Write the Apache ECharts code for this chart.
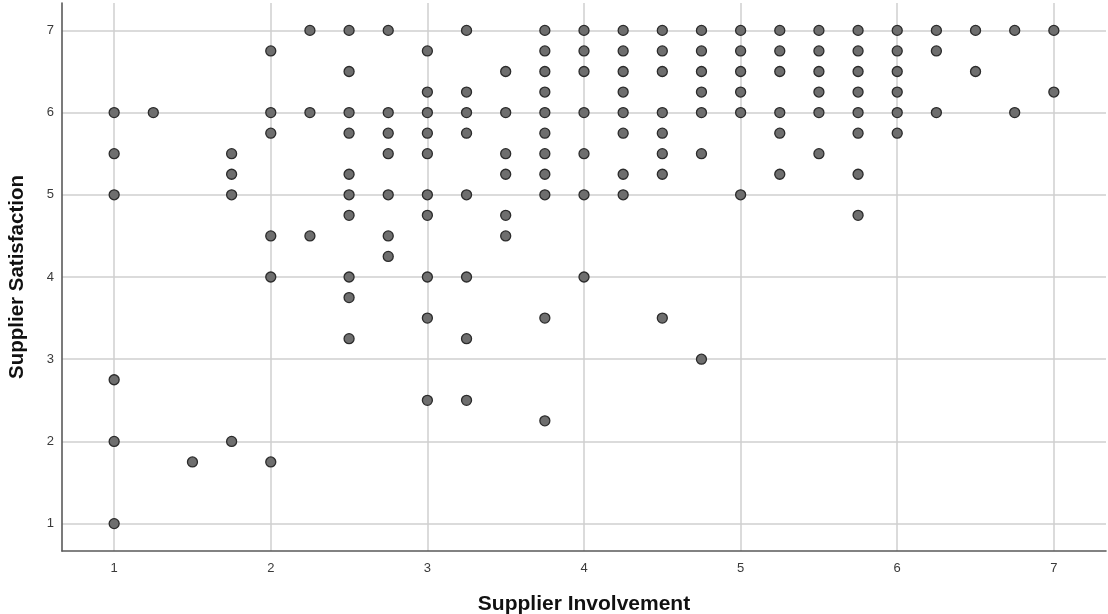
<!DOCTYPE html>
<html>
<head>
<meta charset="utf-8">
<title>Supplier Involvement vs Supplier Satisfaction</title>
<script src="https://cdn.jsdelivr.net/npm/echarts@6/dist/echarts.min.js"></script>
<style>
  html, body { margin: 0; padding: 0; background: #fff; }
  #chart { width: 1108px; height: 614px; }
</style>
</head>
<body>
<div id="chart"></div>
<script>
// Supplier Involvement levels (x) - one entry per column of dots
const involvementLevels = [1, 1.25, 1.5, 1.75, 2, 2.25, 2.5, 2.75, 3, 3.25, 3.5, 3.75,
  4, 4.25, 4.5, 4.75, 5, 5.25, 5.5, 5.75, 6, 6.25, 6.5, 6.75, 7]

// Supplier Satisfaction values observed at each involvement level
const satisfactionByLevel = [
  [6, 5.5, 5, 2.75, 2, 1],
  [6],
  [1.75],
  [5.5, 5.25, 5, 2],
  [6.75, 6, 5.75, 4.5, 4, 1.75],
  [7, 6, 4.5],
  [7, 6.5, 6, 5.75, 5.25, 5, 4.75, 4, 3.75, 3.25],
  [7, 6, 5.75, 5.5, 5, 4.5, 4.25],
  [6.75, 6.25, 6, 5.75, 5.5, 5, 4.75, 4, 3.5, 2.5],
  [7, 6.25, 6, 5.75, 5, 4, 3.25, 2.5],
  [6.5, 6, 5.5, 5.25, 4.75, 4.5],
  [7, 6.75, 6.5, 6.25, 6, 5.75, 5.5, 5.25, 5, 3.5, 2.25],
  [7, 6.75, 6.5, 6, 5.5, 5, 4],
  [7, 6.75, 6.5, 6.25, 6, 5.75, 5.25, 5],
  [7, 6.75, 6.5, 6, 5.75, 5.5, 5.25, 3.5],
  [7, 6.75, 6.5, 6.25, 6, 5.5, 3],
  [7, 6.75, 6.5, 6.25, 6, 5],
  [7, 6.75, 6.5, 6, 5.75, 5.25],
  [7, 6.75, 6.5, 6.25, 6, 5.5],
  [7, 6.75, 6.5, 6.25, 6, 5.75, 5.25, 4.75],
  [7, 6.75, 6.5, 6.25, 6, 5.75],
  [7, 6.75, 6],
  [7, 6.5],
  [7, 6],
  [7, 6.25]
]

// Axis range (SPSS pads a third of a unit each side)
const axisMin = 0.667
const axisMax = 7.333

// Build [x, y] pairs for the scatter series
const points = []
involvementLevels.forEach((x, i) => {
  satisfactionByLevel[i].forEach(y => points.push([x, y]))
})

const chart = echarts.init(document.getElementById('chart'), null, { renderer: 'canvas' })

const fontFamily = 'Liberation Sans, Arial, sans-serif'
const labelFont = { color: '#3a3a3a', fontSize: 13, fontFamily }

const commonAxis = {
  type: 'value',
  min: axisMin,
  max: axisMax,
  splitNumber: 7,
  nameLocation: 'middle',
  axisLine: { show: true, lineStyle: { color: '#5a5a5a', width: 1.6 } },
  axisTick: { show: false },
  axisLabel: { ...labelFont, showMinLabel: false, showMaxLabel: false },
  splitLine: {
    show: true,
    showMinLine: false,
    showMaxLine: false,
    lineStyle: { color: '#cfcfcf', width: 1.5 }
  }
}

const option = {
  backgroundColor: '#fff',
  animation: false,
  // fixed plot box, don't let v6 shrink it to fit the axis names
  grid: { left: 62, right: 2, top: 3, bottom: 63, outerBoundsMode: 'none' },
  xAxis: {
    ...commonAxis,
    name: 'Supplier Involvement',
    nameGap: 43,
    nameTextStyle: { color: '#111', fontSize: 21, fontWeight: 'bold', fontFamily },
    axisLabel: { ...commonAxis.axisLabel, margin: 11 }
  },
  yAxis: {
    ...commonAxis,
    name: 'Supplier Satisfaction',
    nameGap: 34,
    nameTextStyle: { color: '#111', fontSize: 20.5, fontWeight: 'bold', fontFamily },
    axisLabel: { ...commonAxis.axisLabel, margin: 8 }
  },
  series: [
    {
      type: 'scatter',
      data: points,
      symbol: 'circle',
      symbolSize: 10,
      itemStyle: { color: '#6e6e6e', borderColor: '#2b2b2b', borderWidth: 1.3, opacity: 1 }
    }
  ]
}

option && chart.setOption(option)
</script>
</body>
</html>
